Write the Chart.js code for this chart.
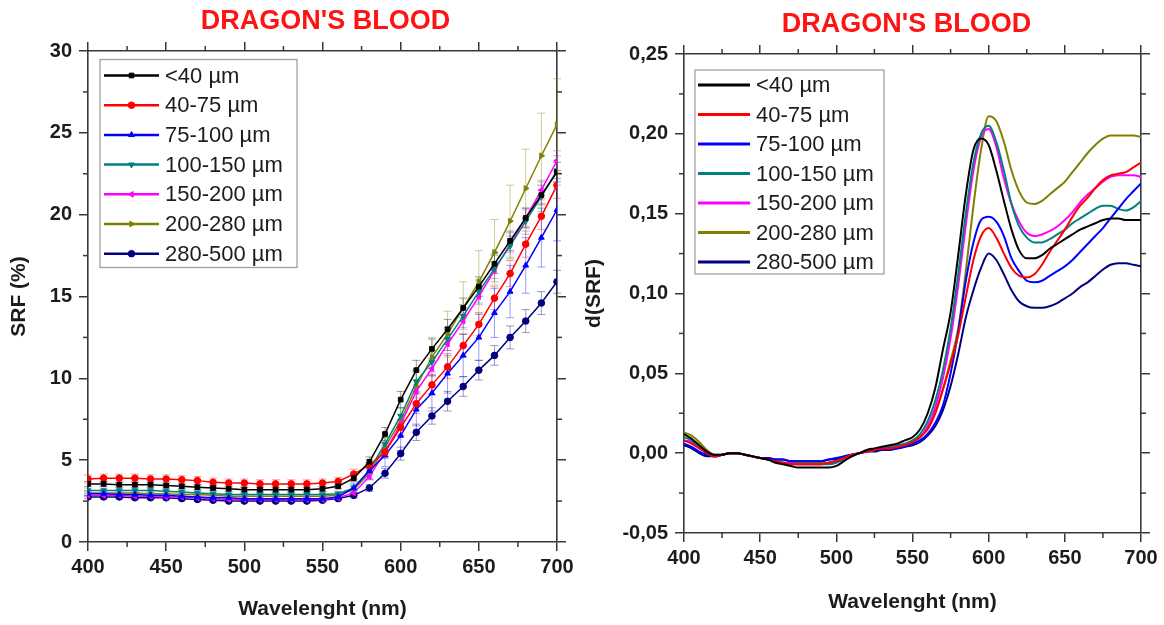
<!DOCTYPE html>
<html>
<head>
<meta charset="utf-8">
<script src="https://cdn.jsdelivr.net/npm/chart.js@4.4.1/dist/chart.umd.min.js"></script>
<style>
  html, body { margin: 0; padding: 0; background: #fff; }
  #wrap { position: relative; width: 1164px; height: 625px; overflow: hidden; }
  .box { position: absolute; top: 0; width: 582px; height: 625px; }
  #boxSrf { left: 0; }
  #boxDer { left: 582px; }
</style>
</head>
<body>
<div id="wrap">
  <div class="box" id="boxSrf"><canvas id="srfChart" width="582" height="625"></canvas></div>
  <div class="box" id="boxDer"><canvas id="derChart" width="582" height="625"></canvas></div>
</div>
<script>
// --- Données : classes granulométriques ---
const sizeLabels = ['<40 µm', '40-75 µm', '75-100 µm', '100-150 µm', '150-200 µm', '200-280 µm', '280-500 µm'];
const sizeColors = ['#000000', '#ff0000', '#0000ff', '#008080', '#ff00ff', '#808000', '#000080'];

// --- SRF (%) tous les 10 nm ---
const srfWavelengths = [400, 410, 420, 430, 440, 450, 460, 470, 480, 490, 500, 510, 520, 530, 540, 550,
    560, 570, 580, 590, 600, 610, 620, 630, 640, 650, 660, 670, 680, 690, 700];

const srfLt40 = [3.55, 3.55, 3.5, 3.5, 3.5, 3.45, 3.4, 3.35, 3.3, 3.25, 3.2, 3.2, 3.2, 3.2, 3.2, 3.25,
    3.4, 3.9, 4.9, 6.6, 8.7, 10.5, 11.8, 13.0, 14.3, 15.6, 17.0, 18.4, 19.8, 21.2, 22.6];
const srf40_75 = [3.85, 3.9, 3.9, 3.9, 3.85, 3.85, 3.8, 3.75, 3.65, 3.6, 3.6, 3.55, 3.55, 3.55, 3.55, 3.6,
    3.7, 4.15, 4.7, 5.5, 7.0, 8.45, 9.6, 10.7, 12.0, 13.3, 14.9, 16.4, 18.2, 19.9, 21.8];
const srf75_100 = [2.95, 2.95, 2.9, 2.9, 2.85, 2.85, 2.8, 2.75, 2.7, 2.7, 2.65, 2.65, 2.65, 2.65, 2.65, 2.65,
    2.75, 3.3, 4.35, 5.3, 6.5, 8.1, 9.1, 10.3, 11.4, 12.5, 14.0, 15.3, 16.9, 18.6, 20.3];
const srf100_150 = [3.15, 3.15, 3.15, 3.15, 3.15, 3.1, 3.05, 3.0, 2.95, 2.9, 2.9, 2.9, 2.9, 2.9, 2.9, 2.9,
    2.95, 3.3, 4.4, 6.0, 7.7, 9.8, 11.0, 12.4, 13.8, 15.3, 16.7, 18.1, 19.6, 21.1, 22.7];
const srf150_200 = [2.85, 2.85, 2.85, 2.8, 2.8, 2.75, 2.75, 2.7, 2.65, 2.6, 2.6, 2.6, 2.6, 2.6, 2.6, 2.6,
    2.7, 3.0, 4.0, 5.5, 7.2, 9.2, 10.6, 12.1, 13.5, 15.0, 16.6, 18.2, 19.8, 21.5, 23.3];
const srf200_280 = [3.0, 3.0, 3.0, 3.0, 2.95, 2.95, 2.9, 2.9, 2.85, 2.8, 2.8, 2.8, 2.8, 2.8, 2.8, 2.8,
    2.85, 3.2, 4.2, 5.8, 7.4, 9.5, 11.3, 12.7, 14.3, 15.9, 17.7, 19.6, 21.6, 23.6, 25.5];
const srf280_500 = [2.75, 2.75, 2.75, 2.7, 2.7, 2.7, 2.65, 2.6, 2.55, 2.5, 2.5, 2.5, 2.5, 2.5, 2.5, 2.55,
    2.65, 2.85, 3.3, 4.2, 5.4, 6.7, 7.7, 8.6, 9.5, 10.5, 11.4, 12.5, 13.5, 14.6, 15.9];

// barres d'erreur (±)
const errLt40 = [0.15, 0.15, 0.15, 0.15, 0.15, 0.15, 0.15, 0.15, 0.15, 0.15, 0.15, 0.15, 0.15, 0.15, 0.15, 0.15,
    0.15, 0.2, 0.3, 0.4, 0.5, 0.6, 0.6, 0.6, 0.6, 0.6, 0.6, 0.6, 0.6, 0.6, 0.6];
const err40_75 = [0.25, 0.25, 0.25, 0.25, 0.25, 0.25, 0.25, 0.25, 0.25, 0.25, 0.25, 0.25, 0.25, 0.25, 0.25, 0.25,
    0.25, 0.3, 0.35, 0.4, 0.5, 0.6, 0.6, 0.7, 0.7, 0.7, 0.7, 0.8, 0.8, 0.8, 0.8];
const err75_100 = [0.15, 0.15, 0.15, 0.15, 0.15, 0.15, 0.15, 0.15, 0.15, 0.15, 0.15, 0.15, 0.15, 0.15, 0.15, 0.15,
    0.15, 0.3, 0.5, 0.7, 0.9, 1.0, 1.1, 1.2, 1.3, 1.4, 1.5, 1.6, 1.7, 1.8, 1.9];
const err100_150 = [0.15, 0.15, 0.15, 0.15, 0.15, 0.15, 0.15, 0.15, 0.15, 0.15, 0.15, 0.15, 0.15, 0.15, 0.15, 0.15,
    0.15, 0.2, 0.3, 0.4, 0.5, 0.6, 0.6, 0.7, 0.7, 0.7, 0.8, 0.8, 0.8, 0.9, 0.9];
const err150_200 = [0.1, 0.1, 0.1, 0.1, 0.1, 0.1, 0.1, 0.1, 0.1, 0.1, 0.1, 0.1, 0.1, 0.1, 0.1, 0.1,
    0.1, 0.15, 0.2, 0.3, 0.3, 0.4, 0.4, 0.4, 0.5, 0.5, 0.5, 0.5, 0.5, 0.6, 0.6];
const err200_280 = [0.15, 0.15, 0.15, 0.15, 0.15, 0.15, 0.15, 0.15, 0.15, 0.15, 0.15, 0.15, 0.15, 0.15, 0.15, 0.15,
    0.15, 0.25, 0.4, 0.6, 0.8, 1.0, 1.2, 1.4, 1.6, 1.9, 2.0, 2.2, 2.4, 2.6, 2.8];
const err280_500 = [0.1, 0.1, 0.1, 0.1, 0.1, 0.1, 0.1, 0.1, 0.1, 0.1, 0.1, 0.1, 0.1, 0.1, 0.1, 0.1,
    0.1, 0.15, 0.2, 0.3, 0.4, 0.5, 0.5, 0.6, 0.6, 0.6, 0.6, 0.7, 0.7, 0.7, 0.7];

// --- d(SRF) tous les 5 nm ---
const derWavelengths = [400, 405, 410, 415, 420, 425, 430, 435, 440, 445, 450, 455, 460, 465, 470, 475,
    480, 485, 490, 495, 500, 505, 510, 515, 520, 525, 530, 535, 540, 545, 550, 555, 560, 565, 570, 575,
    580, 585, 590, 595, 600, 605, 610, 615, 620, 625, 630, 635, 640, 645, 650, 655, 660, 665, 670, 675,
    680, 685, 690, 695, 700];

const derLt40 = [0.012, 0.009, 0.005, 0.001, -0.001, -0.001, 0.000, 0.000, -0.001, -0.002, -0.003, -0.004,
    -0.006, -0.007, -0.008, -0.009, -0.009, -0.009, -0.009, -0.009, -0.008, -0.005, -0.002, 0.000, 0.002,
    0.003, 0.004, 0.005, 0.006, 0.008, 0.010,
    0.015, 0.025, 0.041, 0.065, 0.088, 0.124, 0.162, 0.190, 0.197, 0.193, 0.177, 0.158, 0.140, 0.127, 0.122,
    0.122, 0.124, 0.128, 0.131, 0.134, 0.137, 0.140, 0.142, 0.144, 0.146, 0.147, 0.147, 0.146, 0.146, 0.146];
const der40_75 = [0.008, 0.006, 0.003, 0.000, -0.002, -0.001, 0.000, 0.000, -0.001, -0.002, -0.003, -0.004,
    -0.005, -0.006, -0.007, -0.007, -0.007, -0.007, -0.007, -0.006, -0.005, -0.003, -0.001, 0.000, 0.001,
    0.002, 0.003, 0.003, 0.004, 0.005, 0.007,
    0.010, 0.015, 0.025, 0.040, 0.056, 0.074, 0.098, 0.121, 0.136, 0.141, 0.135, 0.125, 0.116, 0.111, 0.110,
    0.112, 0.118, 0.126, 0.133, 0.140, 0.148, 0.155, 0.160, 0.166, 0.171, 0.174, 0.175, 0.176, 0.179, 0.182];
const der75_100 = [0.006, 0.004, 0.001, -0.001, -0.002, -0.001, 0.000, 0.000, -0.001, -0.002, -0.003, -0.003,
    -0.004, -0.004, -0.005, -0.005, -0.005, -0.005, -0.005, -0.004, -0.003, -0.002, -0.001, 0.000, 0.001,
    0.002, 0.002, 0.003, 0.003, 0.004, 0.006,
    0.008, 0.012, 0.019, 0.030, 0.050, 0.076, 0.108, 0.132, 0.146, 0.148, 0.145, 0.136, 0.122, 0.114, 0.108,
    0.107, 0.108, 0.111, 0.114, 0.117, 0.121, 0.126, 0.131, 0.136, 0.141, 0.147, 0.153, 0.159, 0.164, 0.169];
const der100_150 = [0.010, 0.008, 0.004, 0.000, -0.002, -0.001, 0.000, 0.000, -0.001, -0.002, -0.003, -0.004,
    -0.005, -0.006, -0.007, -0.007, -0.007, -0.007, -0.007, -0.007, -0.006, -0.004, -0.002, 0.000, 0.001,
    0.002, 0.003, 0.004, 0.005, 0.006, 0.008,
    0.012, 0.020, 0.033, 0.052, 0.078, 0.112, 0.150, 0.182, 0.200, 0.205, 0.195, 0.177, 0.156, 0.142, 0.135,
    0.132, 0.132, 0.134, 0.137, 0.140, 0.144, 0.147, 0.150, 0.153, 0.155, 0.155, 0.153, 0.152, 0.154, 0.158];
const der150_200 = [0.008, 0.007, 0.004, 0.000, -0.002, -0.001, 0.000, 0.000, -0.001, -0.002, -0.003, -0.004,
    -0.005, -0.006, -0.006, -0.007, -0.007, -0.007, -0.007, -0.006, -0.005, -0.003, -0.001, 0.000, 0.001,
    0.002, 0.003, 0.003, 0.004, 0.005, 0.007,
    0.010, 0.017, 0.029, 0.047, 0.072, 0.105, 0.143, 0.177, 0.198, 0.203, 0.192, 0.172, 0.156, 0.145, 0.138,
    0.136, 0.137, 0.139, 0.142, 0.146, 0.151, 0.157, 0.162, 0.166, 0.170, 0.173, 0.174, 0.174, 0.174, 0.173];
const der200_280 = [0.013, 0.011, 0.007, 0.002, -0.001, -0.001, 0.000, 0.000, -0.001, -0.002, -0.003, -0.004,
    -0.005, -0.006, -0.006, -0.006, -0.006, -0.006, -0.006, -0.006, -0.005, -0.003, -0.002, 0.000, 0.001,
    0.002, 0.003, 0.004, 0.004, 0.005, 0.007,
    0.010, 0.016, 0.026, 0.040, 0.058, 0.078, 0.114, 0.155, 0.190, 0.211, 0.208, 0.195, 0.177, 0.164, 0.157,
    0.156, 0.158, 0.162, 0.166, 0.170, 0.176, 0.182, 0.188, 0.193, 0.197, 0.199, 0.199, 0.199, 0.199, 0.198];
const der280_500 = [0.005, 0.003, 0.000, -0.002, -0.002, -0.001, 0.000, 0.000, -0.001, -0.002, -0.003, -0.003,
    -0.004, -0.004, -0.005, -0.005, -0.005, -0.005, -0.005, -0.004, -0.004, -0.002, -0.001, 0.000, 0.001,
    0.001, 0.002, 0.002, 0.003, 0.004, 0.005,
    0.007, 0.011, 0.017, 0.027, 0.042, 0.062, 0.085, 0.102, 0.116, 0.125, 0.121, 0.112, 0.102, 0.095, 0.092,
    0.091, 0.091, 0.092, 0.094, 0.097, 0.100, 0.104, 0.107, 0.111, 0.115, 0.118, 0.119, 0.119, 0.118, 0.117];

const srfSeries = [srfLt40, srf40_75, srf75_100, srf100_150, srf150_200, srf200_280, srf280_500];
const srfErrors = [errLt40, err40_75, err75_100, err100_150, err150_200, err200_280, err280_500];
const derSeries = [derLt40, der40_75, der75_100, der100_150, der150_200, der200_280, der280_500];

// --- Style ---
const FONT = "'Liberation Sans', Arial, sans-serif";
const AXIS_COLOR = '#383838';
const TEXT_COLOR = '#1c1c1c';
const markerStyles = [
    { style: 'rect', rot: 0 },
    { style: 'circle', rot: 0 },
    { style: 'triangle', rot: 0 },
    { style: 'triangle', rot: 180 },
    { style: 'triangle', rot: 270 },
    { style: 'triangle', rot: 90 },
    { style: 'circle', rot: 0 }
];

Chart.defaults.font.family = FONT;
Chart.defaults.color = TEXT_COLOR;

function hexAlpha(hex, a) {
    const n = parseInt(hex.slice(1), 16);
    return `rgba(${(n >> 16) & 255},${(n >> 8) & 255},${n & 255},${a})`;
}

// --- Plugins ---
const plotTitle = {
    id: 'plotTitle',
    afterDraw(chart, args, opts) {
        const { ctx, chartArea } = chart;
        ctx.save();
        ctx.font = `bold 27px ${FONT}`;
        ctx.fillStyle = '#ff1414';
        ctx.textAlign = 'center';
        ctx.textBaseline = 'middle';
        ctx.fillText(opts.text, (chartArea.left + chartArea.right) / 2 + opts.dx, opts.y);
        ctx.restore();
    }
};

const errorBars = {
    id: 'errorBars',
    beforeDatasetsDraw(chart) {
        const { ctx } = chart;
        const xs = chart.scales.x, ys = chart.scales.y;
        ctx.save();
        chart.data.datasets.forEach((ds) => {
            if (!ds.errors) return;
            ctx.strokeStyle = ds.errorColor;
            ctx.lineWidth = 1;
            ds.data.forEach((p, j) => {
                const e = ds.errors[j];
                const px = xs.getPixelForValue(p.x);
                const top = ys.getPixelForValue(p.y + e);
                const bot = ys.getPixelForValue(p.y - e);
                ctx.beginPath();
                ctx.moveTo(px, top); ctx.lineTo(px, bot);
                ctx.moveTo(px - 4, top); ctx.lineTo(px + 4, top);
                ctx.moveTo(px - 4, bot); ctx.lineTo(px + 4, bot);
                ctx.stroke();
            });
        });
        ctx.restore();
    }
};

const minorTicks = {
    id: 'minorTicks',
    afterDraw(chart) {
        const { ctx, chartArea: ca } = chart;
        ctx.save();
        ctx.strokeStyle = AXIS_COLOR;
        ctx.lineWidth = 1.5;
        Object.values(chart.scales).forEach((sc) => {
            const t = sc.ticks;
            for (let i = 0; i < t.length - 1; i++) {
                const p = sc.getPixelForValue((t[i].value + t[i + 1].value) / 2);
                ctx.beginPath();
                if (sc.position === 'bottom') { ctx.moveTo(p, ca.bottom); ctx.lineTo(p, ca.bottom + 5); }
                else if (sc.position === 'top') { ctx.moveTo(p, ca.top); ctx.lineTo(p, ca.top - 5); }
                else if (sc.position === 'left') { ctx.moveTo(ca.left, p); ctx.lineTo(ca.left - 5, p); }
                else { ctx.moveTo(ca.right, p); ctx.lineTo(ca.right + 5, p); }
                ctx.stroke();
            }
        });
        ctx.restore();
    }
};

const insideLegend = {
    id: 'insideLegend',
    afterDraw(chart, args, o) {
        const { ctx, chartArea } = chart;
        const x0 = chartArea.left + o.left, y0 = chartArea.top + o.top;
        ctx.save();
        ctx.fillStyle = '#ffffff';
        ctx.fillRect(x0, y0, o.width, o.height);
        ctx.strokeStyle = '#a0a0a0';
        ctx.lineWidth = 1.3;
        ctx.strokeRect(x0, y0, o.width, o.height);
        ctx.font = `22px ${FONT}`;
        ctx.textBaseline = 'middle';
        ctx.textAlign = 'left';
        chart.data.datasets.forEach((ds, i) => {
            const y = y0 + o.firstRow + i * o.rowGap;
            ctx.strokeStyle = ds.borderColor;
            ctx.lineWidth = o.lineWidth;
            ctx.beginPath();
            ctx.moveTo(x0 + o.lineStart, y);
            ctx.lineTo(x0 + o.lineEnd, y);
            ctx.stroke();
            if (o.markers) {
                ctx.fillStyle = ds.borderColor;
                ctx.lineWidth = 1;
                Chart.helpers.drawPoint(ctx, {
                    pointStyle: ds.pointStyle, rotation: ds.pointRotation,
                    radius: ds.pointRadius, borderWidth: 1
                }, x0 + (o.lineStart + o.lineEnd) / 2, y);
            }
            ctx.fillStyle = TEXT_COLOR;
            ctx.fillText(ds.label, x0 + o.textX, y + 1);
        });
        ctx.restore();
    }
};

// --- Axes ---
function makeAxis(position, min, max, step, size, extra = {}) {
    const horizontal = position === 'bottom' || position === 'top';
    const main = position === 'bottom' || position === 'left';
    return {
        type: 'linear',
        position,
        min, max,
        ticks: {
            display: main,
            stepSize: step,
            autoSkip: false,
            padding: horizontal ? 4 : 7,
            color: TEXT_COLOR,
            font: { size: 20, weight: 'bold' },
            callback: extra.format || ((v) => v)
        },
        grid: {
            drawOnChartArea: false,
            drawTicks: true,
            tickLength: 9,
            color: AXIS_COLOR,
            lineWidth: 1.5
        },
        border: { display: true, color: AXIS_COLOR, width: 1.6 },
        title: extra.title ? {
            display: true,
            text: extra.title,
            color: TEXT_COLOR,
            font: { size: 21, weight: 'bold' },
            padding: extra.titlePadding
        } : { display: false },
        afterFit(scale) {
            if (horizontal) scale.height = size; else scale.width = size;
        }
    };
}

const commaFmt = (v) => (Math.abs(v) < 1e-9 ? 0 : v).toFixed(2).replace('.', ',');

// --- Graphique SRF ---
const srfDatasets = srfSeries.map((vals, i) => ({
    label: sizeLabels[i],
    data: srfWavelengths.map((w, j) => ({ x: w, y: vals[j] })),
    errors: srfErrors[i],
    errorColor: hexAlpha(sizeColors[i], 0.4),
    borderColor: sizeColors[i],
    backgroundColor: sizeColors[i],
    borderWidth: 1.5,
    pointStyle: markerStyles[i].style,
    pointRotation: markerStyles[i].rot,
    pointRadius: 3.3,
    pointBorderWidth: 1,
    pointBackgroundColor: sizeColors[i],
    tension: 0
}));

new Chart(document.getElementById('srfChart'), {
    type: 'line',
    data: { datasets: srfDatasets },
    options: {
        responsive: false,
        animation: false,
        layout: { padding: 0 },
        scales: {
            x: makeAxis('bottom', 400, 700, 50, 83, { title: 'Wavelenght (nm)', titlePadding: { top: 0, bottom: 3 } }),
            x2: makeAxis('top', 400, 700, 50, 51),
            y: makeAxis('left', 0, 30, 5, 88, { title: 'SRF (%)', titlePadding: { top: 7, bottom: 0 } }),
            y2: makeAxis('right', 0, 30, 5, 25)
        },
        plugins: {
            legend: { display: false },
            title: { display: false },
            tooltip: { enabled: false },
            plotTitle: { text: "DRAGON'S BLOOD", y: 22, dx: 3 },
            insideLegend: {
                left: 12, top: 8.5, width: 197, height: 208,
                firstRow: 16, rowGap: 29.7,
                lineStart: 4, lineEnd: 59, textX: 65,
                lineWidth: 2.5, markers: true
            }
        }
    },
    plugins: [errorBars, minorTicks, insideLegend, plotTitle]
});

// --- Graphique d(SRF) ---
const derDatasets = derSeries.map((vals, i) => ({
    label: sizeLabels[i],
    data: derWavelengths.map((w, j) => ({ x: w, y: vals[j] })),
    borderColor: sizeColors[i],
    backgroundColor: sizeColors[i],
    borderWidth: 2,
    pointRadius: 0,
    cubicInterpolationMode: 'monotone'
}));

new Chart(document.getElementById('derChart'), {
    type: 'line',
    data: { datasets: derDatasets },
    options: {
        responsive: false,
        animation: false,
        layout: { padding: 0 },
        scales: {
            x: makeAxis('bottom', 400, 700, 50, 92, { title: 'Wavelenght (nm)', titlePadding: { top: 0, bottom: 10 } }),
            x2: makeAxis('top', 400, 700, 50, 54),
            y: makeAxis('left', -0.05, 0.25, 0.05, 102, { title: 'd(SRF)', titlePadding: { top: 0, bottom: 0 }, format: commaFmt }),
            y2: makeAxis('right', -0.05, 0.25, 0.05, 23)
        },
        plugins: {
            legend: { display: false },
            title: { display: false },
            tooltip: { enabled: false },
            plotTitle: { text: "DRAGON'S BLOOD", y: 25, dx: -6 },
            insideLegend: {
                left: 11, top: 16, width: 189, height: 204,
                firstRow: 15, rowGap: 29.5,
                lineStart: 3, lineEnd: 55, textX: 61,
                lineWidth: 3, markers: false
            }
        }
    },
    plugins: [minorTicks, insideLegend, plotTitle]
});
</script>
</body>
</html>
